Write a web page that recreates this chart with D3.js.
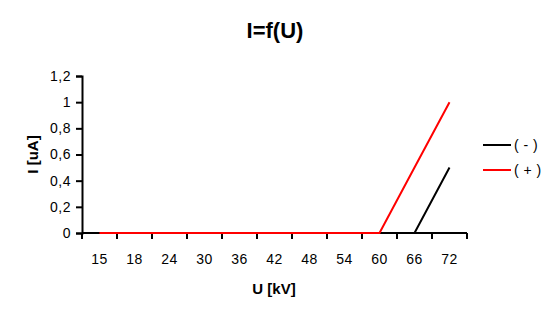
<!DOCTYPE html>
<html>
<head>
<meta charset="utf-8">
<script src="https://cdn.jsdelivr.net/npm/d3@7"></script>
<style>
  body { margin: 0; background: #fff; }
  text { font-family: "Liberation Sans", Arial, sans-serif; }
</style>
</head>
<body>
<div id="chart"></div>
<script>
var categories = ['15', '18', '24', '30', '36', '42', '48', '54', '60', '66', '72'];
var minusValues = [0, 0, 0, 0, 0, 0, 0, 0, 0, 0, 0.5];
var plusValues = [0, 0, 0, 0, 0, 0, 0, 0, 0, 0.5, 1.0];
var yTicks = [0, 0.2, 0.4, 0.6, 0.8, 1, 1.2];

var series = [
  { name: '( - )', values: minusValues, color: '#000000' },
  { name: '( + )', values: plusValues, color: '#ff0000' }
];

var width = 554, height = 317;
var margin = { left: 82, right: 87, top: 76, bottom: 84 };

var svg = d3.select('#chart')
  .append('svg')
  .attr('width', width)
  .attr('height', height);

var x = d3.scaleBand()
  .domain(categories)
  .range([margin.left, width - margin.right]);

var y = d3.scaleLinear()
  .domain([0, 1.2])
  .range([height - margin.bottom, margin.top]);

// x axis, ticks sit on the band boundaries
var xAxis = svg.append('g')
  .attr('transform', 'translate(0,' + (height - margin.bottom) + ')');
xAxis.append('line')
  .attr('x1', margin.left).attr('x2', width - margin.right)
  .attr('stroke', '#000').attr('stroke-width', 2);
var bounds = categories.map(function (c) { return x(c); }).concat([x.range()[1]]);
xAxis.selectAll('line.tick')
  .data(bounds)
  .enter().append('line')
  .attr('class', 'tick')
  .attr('x1', function (d) { return d; })
  .attr('x2', function (d) { return d; })
  .attr('y1', 0).attr('y2', 6)
  .attr('stroke', '#000').attr('stroke-width', 2);
xAxis.selectAll('text')
  .data(categories)
  .enter().append('text')
  .attr('x', function (d) { return x(d) + x.bandwidth() / 2; })
  .attr('y', 31)
  .attr('text-anchor', 'middle')
  .style('font-size', '14px')
  .style('letter-spacing', '0.5px')
  .text(function (d) { return d; });

// y axis
var yAxis = svg.append('g')
  .attr('transform', 'translate(' + margin.left + ',0)')
  .call(d3.axisLeft(y)
    .tickValues(yTicks)
    .tickSize(6)
    .tickFormat(function (d) { return String(d3.format('~g')(d)).replace('.', ','); }));
yAxis.select('.domain').attr('stroke-width', 2);
yAxis.selectAll('.tick line').attr('stroke-width', 2);
yAxis.selectAll('.tick text')
  .attr('x', -11)
  .style('font-size', '14px')
  .style('letter-spacing', '0.5px')
  .style('font-family', '"Liberation Sans", Arial, sans-serif')
  .attr('fill', '#000');

// lines
var line = d3.line()
  .x(function (d, i) { return x(categories[i]) + x.bandwidth() / 2; })
  .y(function (d) { return y(d); });

svg.selectAll('path.series')
  .data(series)
  .enter().append('path')
  .attr('class', 'series')
  .attr('d', function (s) { return line(s.values); })
  .attr('fill', 'none')
  .attr('stroke', function (s) { return s.color; })
  .attr('stroke-width', 2);

// title and axis labels
svg.append('text')
  .attr('x', 275).attr('y', 38)
  .attr('text-anchor', 'middle')
  .style('font-size', '22px')
  .style('font-weight', 'bold')
  .text('I=f(U)');

svg.append('text')
  .attr('x', 274).attr('y', 294)
  .attr('text-anchor', 'middle')
  .style('font-size', '15px')
  .style('font-weight', 'bold')
  .text('U [kV]');

svg.append('text')
  .attr('transform', 'translate(38,' + y(0.6) + ') rotate(-90)')
  .attr('text-anchor', 'middle')
  .style('font-size', '15px')
  .style('font-weight', 'bold')
  .text('I [uA]');

// legend
var legend = svg.selectAll('g.legend')
  .data(series)
  .enter().append('g')
  .attr('class', 'legend')
  .attr('transform', function (s, i) { return 'translate(483,' + (145 + i * 25) + ')'; });
legend.append('line')
  .attr('x1', 0).attr('x2', 28)
  .attr('stroke', function (s) { return s.color; })
  .attr('stroke-width', 2);
legend.append('text')
  .attr('x', 31).attr('y', 5)
  .style('font-size', '14px')
  .style('letter-spacing', '0.5px')
  .text(function (s) { return s.name; });
</script>
</body>
</html>
